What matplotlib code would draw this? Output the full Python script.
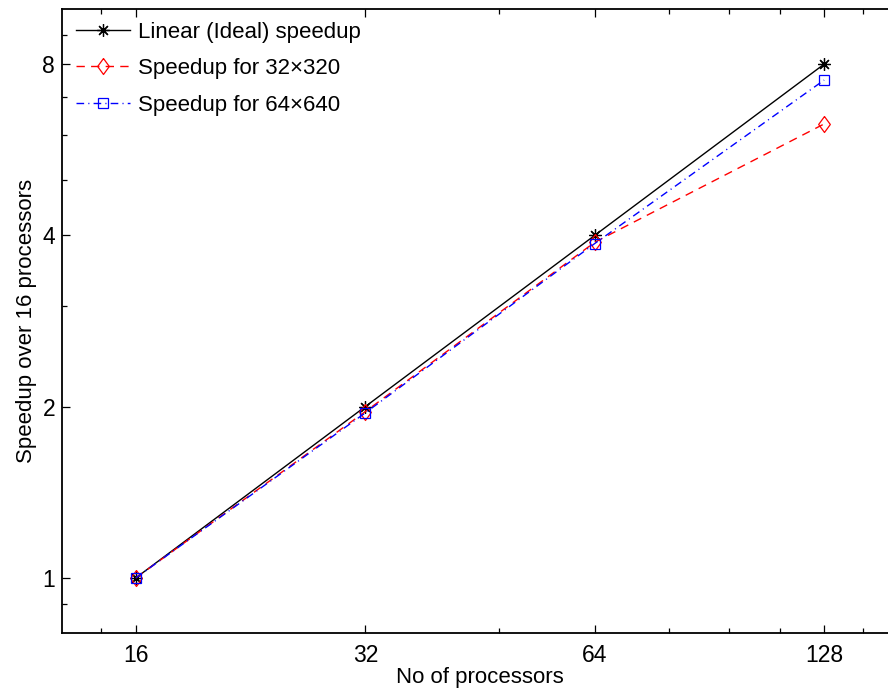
import numpy as np
import matplotlib
matplotlib.use('Agg')
from matplotlib import pyplot as plt
from matplotlib.ticker import FixedLocator, NullFormatter

plt.rcParams['font.family'] = ['Liberation Sans', 'DejaVu Sans']

# data
procs = [16, 32, 64, 128]
ideal = [1, 2, 4, 8]
speed_32x320 = [1.0, 1.96, 3.89, 6.28]
speed_64x640 = [1.0, 1.95, 3.87, 7.5]

x_major = [16, 32, 64, 128]
x_minor = [14.4, 48, 80, 96, 112, 144]
y_major = [1, 2, 4, 8]
y_minor = [0.9, 3, 5, 6, 7, 9]

# slightly tall diamond like the original
diamond = [(0, 1), (0.73, 0), (0, -1), (-0.73, 0), (0, 1)]

fig = plt.figure(figsize=(8.88, 6.92), dpi=100)
ax = fig.add_axes([62/888, 59/692, 836/888, 624/692])

ax.plot(procs, ideal, color='black', lw=1.0, marker=(8, 2, 0), ms=9,
        mew=0.9, label='Linear (Ideal) speedup')
ax.plot(procs, speed_32x320, color='red', lw=1.0, dashes=(6, 4.5),
        marker=diamond, ms=11.5, mfc='none', mew=0.9, label='Speedup for 32\u00d7320')
ax.plot(procs, speed_64x640, color='blue', lw=1.0, dashes=(5.5, 3, 0.8, 3),
        marker='s', ms=7, mfc='none', mew=0.9, label='Speedup for 64\u00d7640')

ax.set_xscale('log', base=2)
ax.set_yscale('log', base=2)
ax.set_xlim(12.8, 160)
ax.set_ylim(0.8, 10)

ax.xaxis.set_major_locator(FixedLocator(x_major))
ax.xaxis.set_minor_locator(FixedLocator(x_minor))
ax.yaxis.set_major_locator(FixedLocator(y_major))
ax.yaxis.set_minor_locator(FixedLocator(y_minor))
ax.set_xticklabels([str(v) for v in x_major])
ax.set_yticklabels([str(v) for v in y_major])
ax.xaxis.set_minor_formatter(NullFormatter())
ax.yaxis.set_minor_formatter(NullFormatter())

ax.tick_params(which='both', direction='in', top=True, right=True,
               labelsize=16.5, width=0.9)
ax.tick_params(axis='x', pad=8)
ax.tick_params(axis='y', pad=5)
ax.tick_params(which='major', length=6)
ax.tick_params(which='minor', length=3.5)
for s in ax.spines.values():
    s.set_linewidth(1.3)

ax.set_xlabel('No of processors', fontsize=16, labelpad=0)
ax.set_ylabel('Speedup over 16 processors', fontsize=16, labelpad=3.5)

ax.legend(loc='upper left', bbox_to_anchor=(0.012, 0.987), frameon=False,
          fontsize=16, handlelength=2.4, handletextpad=0.35,
          labelspacing=0.7, borderpad=0.2, borderaxespad=0)

fig.savefig('out.png', dpi=100)
